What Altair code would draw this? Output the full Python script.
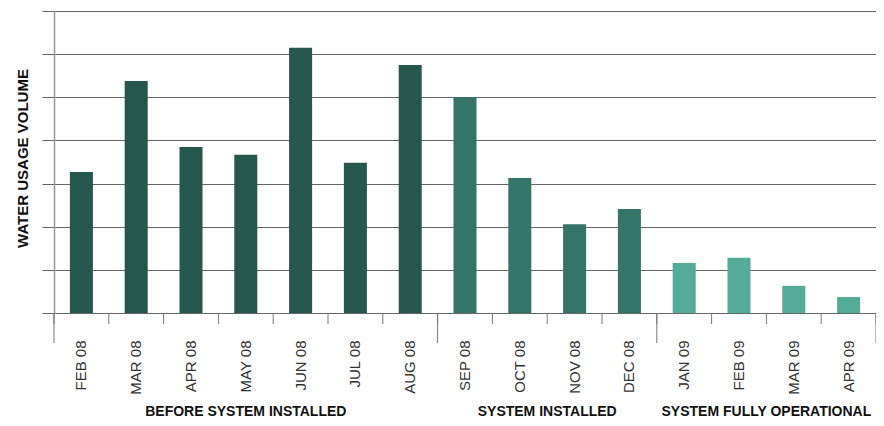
import altair as alt
import pandas as pd

months = ["FEB 08", "MAR 08", "APR 08", "MAY 08", "JUN 08", "JUL 08", "AUG 08",
          "SEP 08", "OCT 08", "NOV 08", "DEC 08",
          "JAN 09", "FEB 09", "MAR 09", "APR 09"]
values = [3.27, 5.38, 3.85, 3.67, 6.15, 3.48, 5.75,
          5.0, 3.13, 2.06, 2.41,
          1.16, 1.28, 0.63, 0.37]
groups = ["BEFORE SYSTEM INSTALLED"] * 7 + ["SYSTEM INSTALLED"] * 4 + ["SYSTEM FULLY OPERATIONAL"] * 4
group_order = ["BEFORE SYSTEM INSTALLED", "SYSTEM INSTALLED", "SYSTEM FULLY OPERATIONAL"]
group_colors = ["#26574d", "#347567", "#54ac98"]
y_ticks = [0, 1, 2, 3, 4, 5, 6, 7]

FONT = "Liberation Sans"
W, H = 822, 302
n = len(months)

df = pd.DataFrame({"month": months, "value": values, "group": groups})
df["idx"] = range(n)

# group spans (derived from the month list)
g = df.groupby("group", sort=False)["idx"].agg(["min", "max"]).reset_index()
g["start"] = g["min"]
g["end"] = g["max"] + 1
g["center"] = (g["start"] + g["end"]) / 2

bounds = pd.DataFrame({"pos": list(range(n + 1))})
group_bounds = pd.DataFrame({"pos": sorted(set(g["start"]).union(set(g["end"])))})

qscale = alt.Scale(domain=[0, n], nice=False, zero=True)

bars = alt.Chart(df).mark_bar().encode(
    x=alt.X("month:N", sort=months,
            scale=alt.Scale(paddingInner=0.58, paddingOuter=0.29),
            axis=alt.Axis(title=None, labelAngle=270, labelFont=FONT, labelFontSize=15,
                          labelColor="#333", ticks=False, tickSize=0, domain=False,
                          labelPadding=27)),
    y=alt.Y("value:Q", scale=alt.Scale(domain=[0, 7], nice=False),
            axis=alt.Axis(values=y_ticks, labels=False, tickSize=12, tickColor="#666",
                          gridColor="#666", gridWidth=1, domainColor="#999", domainWidth=1.5,
                          title="WATER USAGE VOLUME", titleFont=FONT, titleFontSize=15,
                          titleFontWeight="bold", titleColor="#111", titleAngle=270,
                          titleX=-32, titleY=147, titleBaseline="middle", titleAlign="center")),
    color=alt.Color("group:N", scale=alt.Scale(domain=group_order, range=group_colors), legend=None),
)

short_ticks = alt.Chart(bounds).mark_rule(color="#777", strokeWidth=1).encode(
    x=alt.X("pos:Q", scale=qscale, axis=None),
    y=alt.value(H), y2=alt.value(H + 11),
)

long_ticks = alt.Chart(group_bounds).mark_rule(color="#777", strokeWidth=1).encode(
    x=alt.X("pos:Q", scale=qscale, axis=None),
    y=alt.value(H), y2=alt.value(H + 30),
)

group_text = alt.Chart(g).mark_text(font=FONT, fontSize=14, fontWeight="bold", color="#111",
                                    align="center", baseline="middle").encode(
    x=alt.X("center:Q", scale=qscale, axis=None),
    y=alt.value(H + 99),
    text="group:N",
)

chart = alt.layer(bars, short_ticks, long_ticks, group_text).resolve_scale(
    x="independent"
).properties(
    width=W, height=H,
    autosize=alt.AutoSizeParams(type="none"),
    padding={"left": 46, "top": 3, "right": 0, "bottom": 105},
).configure_view(stroke=None)

chart.save("out.html", embed_options={"renderer": "svg", "actions": False})
